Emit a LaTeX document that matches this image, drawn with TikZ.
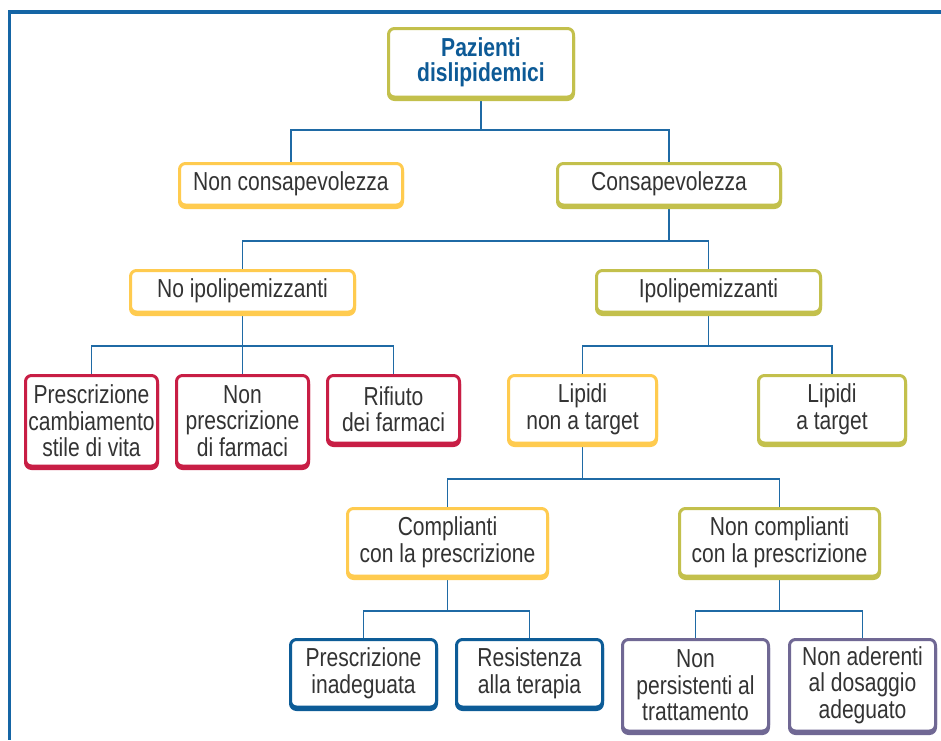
\documentclass[tikz,border=0pt]{standalone}
\usepackage{fontspec}
\setmainfont[FakeStretch=0.81]{Liberation Sans}
\usetikzlibrary{backgrounds}
\definecolor{frameblue}{HTML}{1565A5}
\definecolor{connblue}{HTML}{1F6AA5}
\definecolor{bolive}{HTML}{C3C04C}
\definecolor{byellow}{HTML}{FFCB4F}
\definecolor{bcrimson}{HTML}{C81E45}
\definecolor{bblue}{HTML}{0D5C97}
\definecolor{bpurple}{HTML}{706894}
\definecolor{titleblue}{HTML}{0D5A96}
\definecolor{txt}{HTML}{333333}
\tikzset{
  box/.style={draw=#1, fill=white, line width=3pt, rounded corners=6pt,
    inner sep=0pt, align=center, text=txt,
    font=\fontsize{26}{26.5}\selectfont,
    preaction={draw=#1, fill=#1, line width=3pt, transform canvas={yshift=-2.5pt}}},
  conn/.style={draw=connblue, line width=1.3pt},
  frameline/.style={draw=frameblue, line width=3.5pt}
}
\begin{document}
\begin{tikzpicture}[x=1pt,y=-1pt]
\useasboundingbox (0,0) rectangle (941,740);
\coordinate (ftl) at (9.5,12);
\coordinate (ftr) at (941,12);
\coordinate (fbl) at (9.5,740);
\draw[frameline] (ftr) -- (ftl) -- (fbl);

\node[box=bolive, minimum width=185pt, minimum height=68.5pt, text=titleblue, font=\fontsize{26}{25}\selectfont\bfseries] (root) at (481,62.75) {Pazienti\\dislipidemici};

\node[box=byellow, minimum width=223pt, minimum height=41.5pt] (noncons) at (291,184.25) {Non consapevolezza};
\node[box=bolive, minimum width=223pt, minimum height=41.5pt] (cons) at (669,184.25) {Consapevolezza};

\node[box=byellow, minimum width=224pt, minimum height=41.5pt] (noipo) at (242.5,291.25) {No ipolipemizzanti};
\node[box=bolive, minimum width=224pt, minimum height=41.5pt] (ipo) at (708.5,291.25) {Ipolipemizzanti};

\node[box=bcrimson, minimum width=132pt, minimum height=90.5pt] (presc) at (91.5,420.75) {Prescrizione\\cambiamento\\stile di vita};
\node[box=bcrimson, minimum width=132pt, minimum height=90.5pt] (nonpresc) at (242.5,420.75) {Non\\prescrizione\\di farmaci};
\node[box=bcrimson, minimum width=132pt, minimum height=67.5pt] (rifiuto) at (393.5,409.25) {Rifiuto\\dei farmaci};

\node[box=byellow, minimum width=148pt, minimum height=67.5pt] (lipnon) at (582.5,409.25) {Lipidi\\non a target};
\node[box=bolive, minimum width=147pt, minimum height=67.5pt] (lipt) at (832,409.25) {Lipidi\\a target};

\node[box=byellow, minimum width=200pt, minimum height=67.5pt] (compl) at (447.5,542.25) {Complianti\\con la prescrizione};
\node[box=bolive, minimum width=200pt, minimum height=67.5pt] (noncompl) at (779.5,542.25) {Non complianti\\con la prescrizione};

\node[box=bblue, minimum width=146pt, minimum height=67.5pt] (prescin) at (363.5,673.25) {Prescrizione\\inadeguata};
\node[box=bblue, minimum width=146pt, minimum height=67.5pt] (resist) at (529.5,673.25) {Resistenza\\alla terapia};

\node[box=bpurple, minimum width=146pt, minimum height=91.5pt] (nonpers) at (695.5,685.25) {Non\\persistenti al\\trattamento};
\node[box=bpurple, minimum width=146pt, minimum height=91.5pt] (nonader) at (862.5,685.25) {Non aderenti\\al dosaggio\\adeguato};

\begin{scope}[on background layer]
\draw[conn] (root.south) -- (root.south |- 0,130) -| (noncons.north);
\draw[conn] (root.south |- 0,130) -| (cons.north);
\draw[conn] (cons.south) -- (cons.south |- 0,241) -| (noipo.north);
\draw[conn] (cons.south |- 0,241) -| (ipo.north);
\draw[conn] (noipo.south) -- (noipo.south |- 0,346) -| (presc.north);
\draw[conn] (noipo.south |- 0,346) -| (nonpresc.north);
\draw[conn] (noipo.south |- 0,346) -| (rifiuto.north);
\draw[conn] (ipo.south) -- (ipo.south |- 0,346) -| (lipnon.north);
\draw[conn] (ipo.south |- 0,346) -| (lipt.north);
\draw[conn] (lipnon.south) -- (lipnon.south |- 0,479) -| (compl.north);
\draw[conn] (lipnon.south |- 0,479) -| (noncompl.north);
\draw[conn] (compl.south) -- (compl.south |- 0,611) -| (prescin.north);
\draw[conn] (compl.south |- 0,611) -| (resist.north);
\draw[conn] (noncompl.south) -- (noncompl.south |- 0,611) -| (nonpers.north);
\draw[conn] (noncompl.south |- 0,611) -| (nonader.north);
\end{scope}
\end{tikzpicture}
\end{document}
